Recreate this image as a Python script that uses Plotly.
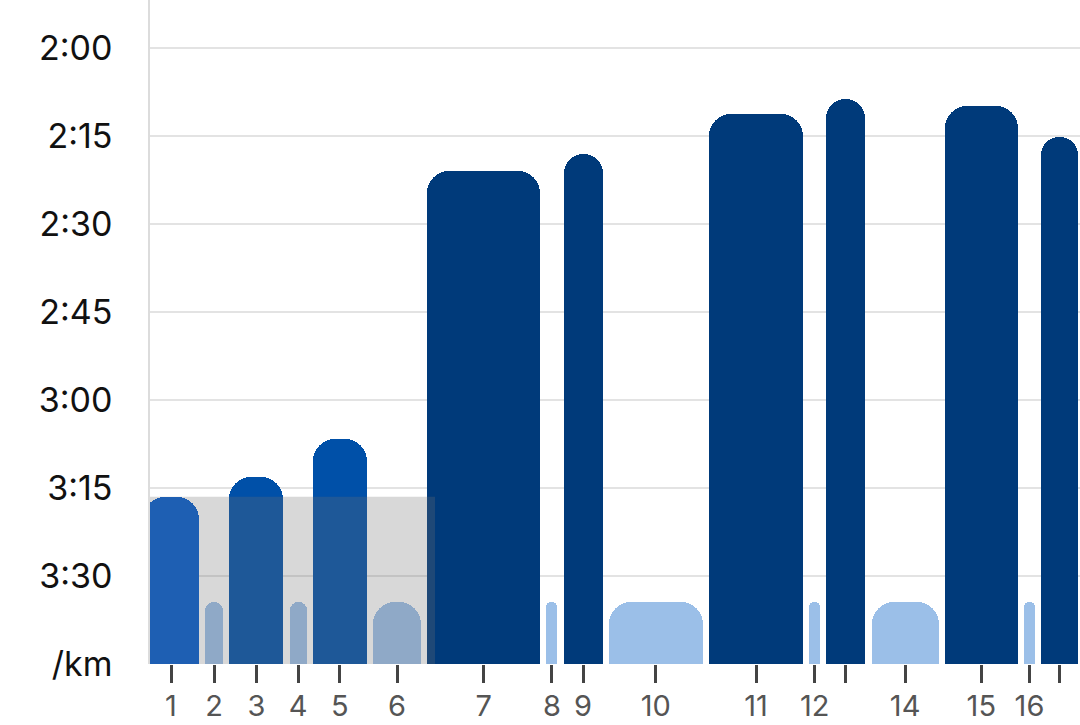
import plotly.graph_objects as go

# ---- data ----
segments = list(range(1, 18))
# segment lengths (relative duration units)
seg_len = [56, 18, 54, 17, 54, 48, 113, 11, 39, 94, 94, 11, 39, 67, 73, 11, 37]
# pace per segment in seconds per km
pace_s = [196.5, 214.4, 193.2, 214.4, 186.7, 214.4, 141.0, 214.4, 138.1, 214.4,
          131.3, 214.4, 128.6, 214.4, 129.9, 214.4, 135.1]
seg_type = ["warm", "rest", "mid", "rest", "mid", "rest", "fast", "rest", "fast", "rest",
            "fast", "rest", "fast", "rest", "fast", "rest", "fast"]
x_labels = ["1", "2", "3", "4", "5", "6", "7", "8", "9", "10", "11", "12", "", "14", "15", "16", ""]
y_tick_pace = [120, 135, 150, 165, 180, 195, 210, 225]
y_tick_text = ["2:00", "2:15", "2:30", "2:45", "3:00", "3:15", "3:30", "/km"]
zone_pace = 196.5      # shaded zone top (pace)
zone_end = 285         # shaded zone end along the x axis

# ---- styling ----
base_pace = 225
top_pace = 111.8
gap = 6.2
start = -7
colors = {"warm": "#0059cc", "mid": "#0050a8", "fast": "#003a7a", "rest": "#9bbfe8"}

centers = []
pos = start
for w in seg_len:
    centers.append(pos + w / 2)
    pos += w + gap

heights = [base_pace - p for p in pace_s]

fig = go.Figure()
fig.add_trace(go.Bar(
    x=centers, y=heights, width=seg_len,
    marker=dict(color=[colors[t] for t in seg_type], cornerradius=22, line=dict(width=0)),
    hoverinfo="skip",
))

fig.add_shape(type="rect", xref="x", yref="y", x0=-10, x1=zone_end,
              y0=0, y1=base_pace - zone_pace, layer="above",
              fillcolor="rgba(112,112,112,0.27)", line=dict(width=0))

fig.update_layout(
    width=1080, height=725,
    margin=dict(l=150, r=0, t=0, b=61),
    paper_bgcolor="white", plot_bgcolor="white",
    showlegend=False,
    font=dict(family="Inter, Noto Sans, sans-serif"),
    bargap=0,
)
fig.update_xaxes(
    range=[0, 930], tickmode="array", tickvals=centers, ticktext=x_labels,
    ticks="outside", ticklen=18, tickwidth=3, tickcolor="#444",
    tickfont=dict(size=29, color="#555"), ticklabelstandoff=-2,
    showgrid=False, zeroline=False, showline=False, fixedrange=True,
)
fig.update_yaxes(
    range=[0, base_pace - top_pace], tickmode="array",
    tickvals=[base_pace - p for p in y_tick_pace], ticktext=y_tick_text,
    tickfont=dict(size=34, color="#111"),
    showgrid=True, gridcolor="#e3e3e3", gridwidth=1.5,
    zeroline=False, showline=True, linecolor="#dcdcdc", linewidth=1.5,
    ticks="", ticklabelstandoff=29, fixedrange=True,
)

fig.write_html(
    "out.html",
    config={"displayModeBar": False},
    post_script="document.body.style.margin='0';document.body.style.overflow='hidden';",
)
